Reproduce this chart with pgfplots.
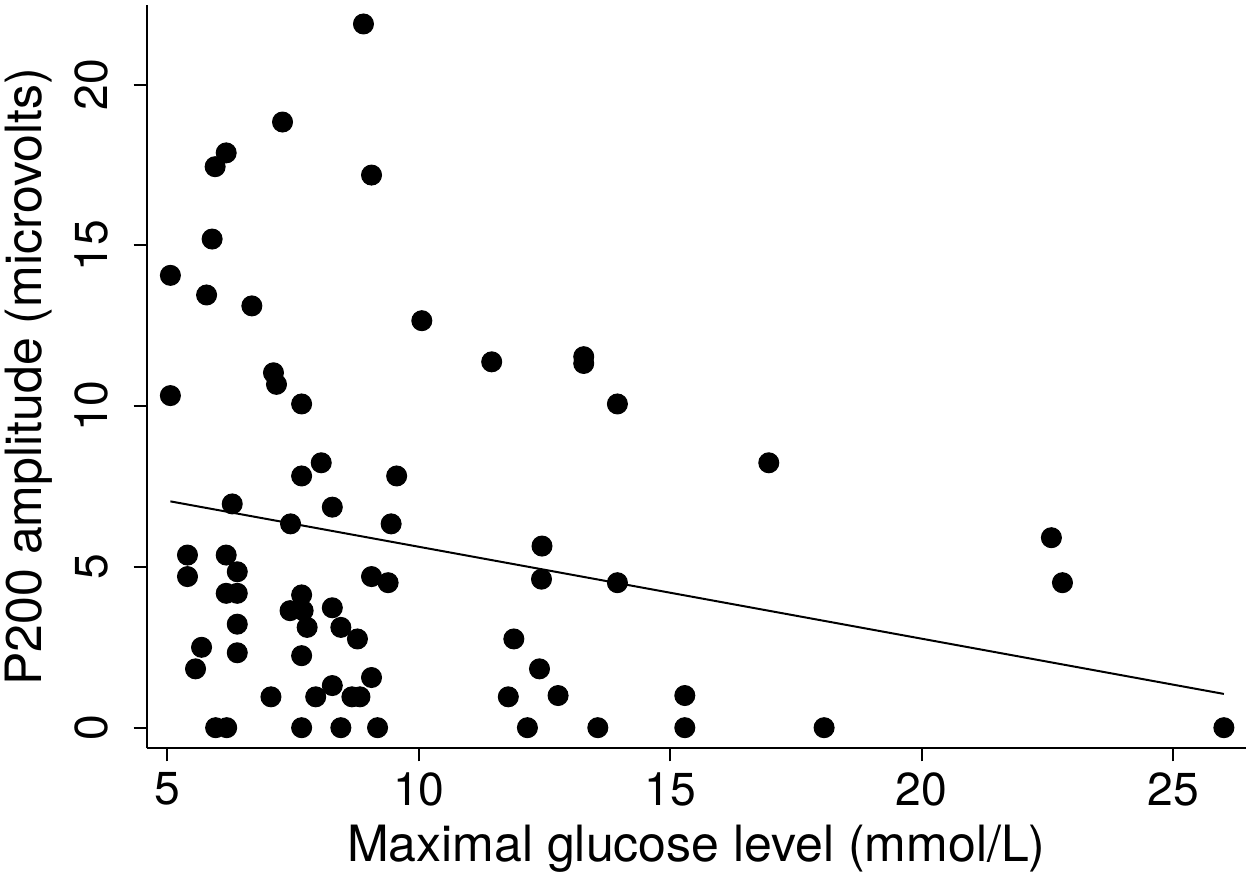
\documentclass[border=0pt]{standalone}
\usepackage{fontspec}
\setmainfont{TeX Gyre Heros}
\usepackage{pgfplots}
\pgfplotsset{compat=1.18}
\begin{document}
\begin{tikzpicture}
\begin{axis}[
  at={(0,0)}, anchor=south west,
  width=439.7pt, height=297.3pt, scale only axis,
  xmin=4.59, xmax=26.45, ymin=-0.64, ymax=22.48,
  axis x line*=bottom, axis y line*=left,
  axis line style={-, line width=0.8pt},
  xtick={5,10,15,20,25}, ytick={0,5,10,15,20},
  tick align=outside, major tick length=5.2pt,
  tick style={line width=0.8pt, black},
  /pgf/number format/assume math mode=true,
  ticklabel style={font=\fontsize{18.5}{20}\selectfont, inner sep=0pt},
  xticklabel style={anchor=north},
  yticklabel style={rotate=90, anchor=base},
  xticklabel shift=4.2pt, yticklabel shift=10.3pt,
  xlabel={Maximal glucose level (mmol/L)},
  ylabel={P200 amplitude (microvolts)},
  label style={font=\fontsize{20}{24}\selectfont, inner sep=0pt},
  xlabel style={at={([yshift=-45.4pt]axis description cs:0.5,0)}, anchor=base},
  ylabel style={at={([xshift=-41.9pt]axis description cs:0,0.5)}, anchor=base},
]
\addplot[only marks, mark=*, mark size=4pt, mark options={fill=black, draw=none}] table {
x y
8.90 21.89
7.29 18.84
6.17 17.88
5.95 17.45
9.06 17.19
5.89 15.20
5.06 14.07
5.78 13.46
6.68 13.12
10.06 12.66
11.45 11.38
13.28 11.54
13.28 11.33
7.11 11.04
7.17 10.68
5.06 10.33
7.67 10.07
13.95 10.07
8.06 8.24
16.96 8.24
7.67 7.83
9.56 7.83
6.29 6.96
8.28 6.86
7.45 6.34
9.45 6.34
22.58 5.91
12.45 5.65
5.40 5.37
6.17 5.37
6.39 4.85
5.40 4.70
9.06 4.70
12.44 4.62
9.39 4.51
13.95 4.51
22.80 4.51
6.17 4.18
6.39 4.18
7.67 4.13
8.28 3.73
7.44 3.64
7.70 3.64
6.39 3.22
7.78 3.12
8.45 3.12
8.78 2.76
11.89 2.76
5.68 2.50
6.39 2.33
7.67 2.24
5.56 1.83
12.40 1.83
9.06 1.56
8.28 1.31
7.06 0.96
7.95 0.96
8.67 0.96
8.83 0.96
11.78 0.96
12.77 1.00
15.29 1.00
5.96 0
6.18 0
7.67 0
8.45 0
9.18 0
12.16 0
13.56 0
15.29 0
18.06 0
26.01 0
};
\addplot[black, line width=0.8pt] coordinates {(5.06,7.04) (26.01,1.05)};
\end{axis}
\pgfresetboundingbox
\path (-58.7pt,-51.9pt) rectangle (441.3pt,299.3pt);
\end{tikzpicture}
\end{document}
